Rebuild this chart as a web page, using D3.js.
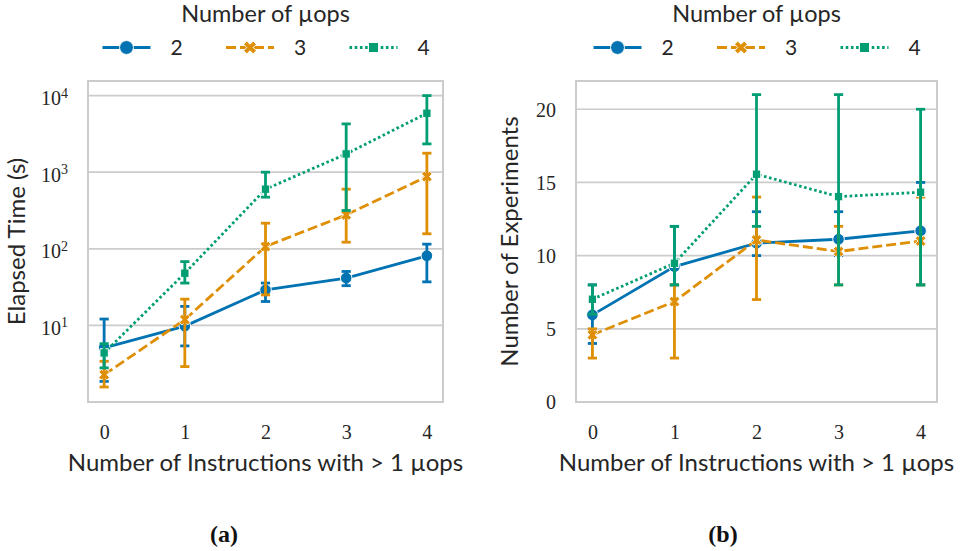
<!DOCTYPE html>
<html>
<head>
<meta charset="utf-8">
<script src="https://cdn.jsdelivr.net/npm/d3@7"></script>
<style>
  html, body { margin: 0; padding: 0; background: #fff; }
  svg { display: block; }
</style>
</head>
<body>
<svg id="chart" width="961" height="551"></svg>
<script>
// Categories on the x axis: number of instructions with more than one µop
const xValues = [0, 1, 2, 3, 4];
const uopLevels = ["2", "3", "4"];
const colors = ["#0173b2", "#de8f05", "#029e73"];

// (a) elapsed time in seconds: mean and error-bar bounds per µop level
const timeMean2 = [5.1, 9.8, 29, 41.5, 81];
const timeLow2  = [1.86, 5.4, 20.5, 33, 37];
const timeHigh2 = [12.1, 17.7, 35.7, 50.6, 115];
const timeMean3 = [2.27, 11.9, 107, 277, 877];
const timeLow3  = [1.57, 2.9, 25, 122, 157];
const timeHigh3 = [3.4, 22, 216, 600, 1770];
const timeMean4 = [4.37, 48, 600, 1730, 5880];
const timeLow4  = [2.79, 35.7, 472, 316, 2340];
const timeHigh4 = [5.77, 68, 1000, 4270, 10000];

// (b) number of experiments: mean and error-bar bounds per µop level
const countMean2 = [5.95, 9.25, 10.85, 11.12, 11.69];
const countLow2  = [4, 8, 10, 10, 8];
const countHigh2 = [8, 12, 13, 13, 15];
const countMean3 = [4.59, 6.86, 11.07, 10.28, 11.0];
const countLow3  = [3, 3, 7, 8, 8];
const countHigh3 = [5, 8, 14, 12, 14];
const countMean4 = [7.02, 9.48, 15.56, 14.03, 14.33];
const countLow4  = [6, 8, 12, 8, 8];
const countHigh4 = [8, 12, 21, 21, 20];

// Axis ticks
const logTickExponents = [1, 2, 3, 4];
const linearTicks = [0, 5, 10, 15, 20];

const textColor = "#262626";
const gridColor = "#cccccc";
const sansFont = "Lato, 'Noto Sans', sans-serif";
const serifFont = "'Liberation Serif', 'DejaVu Serif', serif";

const svg = d3.select("#chart");

const dashes = [null, "10 4", "2.6 2.6"];

// marker glyphs; k scales them (legend handles are drawn a bit larger)
function markerPath(kind, k) {
  if (kind === 0) return d3.symbol().type(d3.symbolCircle).size(Math.PI * Math.pow(5.8 * k, 2))();
  if (kind === 2) return d3.symbol().type(d3.symbolSquare).size(Math.pow(8.4 * k, 2))();
  // filled "X" marker
  const s = 2.7 * k;
  const pts = [[-1,-2],[0,-1],[1,-2],[2,-1],[1,0],[2,1],[1,2],[0,1],[-1,2],[-2,1],[-1,0],[-2,-1]];
  return "M" + pts.map(p => (p[0] * s) + "," + (p[1] * s)).join("L") + "Z";
}

function drawPanel(opts) {
  const g = svg.append("g");
  const x = d3.scaleLinear().domain([-0.2, 4.2]).range([opts.left, opts.right]);
  const y = opts.y;

  // horizontal grid lines
  g.append("g").selectAll("line").data(opts.gridValues).join("line")
    .attr("x1", opts.left).attr("x2", opts.right)
    .attr("y1", d => y(d)).attr("y2", d => y(d))
    .attr("stroke", gridColor).attr("stroke-width", 1.7);

  // frame
  g.append("rect")
    .attr("x", opts.left).attr("y", opts.top)
    .attr("width", opts.right - opts.left).attr("height", opts.bottom - opts.top)
    .attr("fill", "none").attr("stroke", gridColor).attr("stroke-width", 2);

  // x axis tick labels
  const xAxis = d3.axisBottom(x).tickValues(xValues).tickSize(0).tickPadding(0).tickFormat(d3.format("d"));
  const xa = g.append("g").attr("transform", `translate(0,${opts.bottom + 37})`).call(xAxis);
  xa.select(".domain").remove();
  xa.selectAll("text").attr("font-family", serifFont).attr("font-size", 20)
    .attr("fill", textColor).attr("dy", 0);

  // y axis tick labels
  const yAxis = d3.axisLeft(y).tickValues(opts.gridValues).tickSize(0).tickPadding(0).tickFormat("");
  const ya = g.append("g").attr("transform", `translate(${opts.left - 20},0)`).call(yAxis);
  ya.select(".domain").remove();
  ya.selectAll(".tick text").remove();
  ya.selectAll(".tick").each(function(d) {
    const t = d3.select(this).append("text")
      .attr("font-family", serifFont).attr("font-size", 20)
      .attr("fill", textColor).attr("text-anchor", "end");
    if (opts.logLabels) {
      t.attr("y", 9);
      t.append("tspan").text("10");
      t.append("tspan").attr("font-size", 14).attr("dy", -7.5).text(String(Math.round(Math.log10(d))));
    } else {
      t.attr("y", 6.8).text(d);
    }
  });

  // axis titles
  g.append("text")
    .attr("x", (opts.left + opts.right) / 2).attr("y", opts.bottom + 69)
    .attr("text-anchor", "middle").attr("font-family", sansFont).attr("font-size", 24)
    .attr("fill", textColor).text("Number of Instructions with > 1 µops");
  g.append("text")
    .attr("transform", `translate(${opts.yLabelX},${(opts.top + opts.bottom) / 2}) rotate(-90)`)
    .attr("text-anchor", "middle").attr("font-family", sansFont).attr("font-size", 24)
    .attr("fill", textColor).text(opts.yLabel);

  // series: line with markers, then error bars
  opts.series.forEach((s, i) => {
    const line = d3.line().x((d, j) => x(xValues[j])).y(d => y(d));
    g.append("path").datum(s.mean)
      .attr("d", line).attr("fill", "none")
      .attr("stroke", colors[i]).attr("stroke-width", 2.8)
      .attr("stroke-dasharray", dashes[i]);
    g.append("g").selectAll("path").data(s.mean).join("path")
      .attr("transform", (d, j) => `translate(${x(xValues[j])},${y(d)})`)
      .attr("d", markerPath(i, 1))
      .attr("fill", colors[i]).attr("stroke", "#fff").attr("stroke-width", 1);
    const eb = g.append("g").attr("stroke", colors[i]).attr("stroke-width", 2.8);
    xValues.forEach((xv, j) => {
      const cx = x(xv), lo = y(s.low[j]), hi = y(s.high[j]);
      eb.append("line").attr("x1", cx).attr("x2", cx).attr("y1", lo).attr("y2", hi);
      eb.append("line").attr("x1", cx - 4.6).attr("x2", cx + 4.6).attr("y1", lo).attr("y2", lo);
      eb.append("line").attr("x1", cx - 4.6).attr("x2", cx + 4.6).attr("y1", hi).attr("y2", hi);
    });
  });

  // legend above the panel
  const cx = (opts.left + opts.right) / 2;
  g.append("text").attr("x", cx).attr("y", 21.5)
    .attr("text-anchor", "middle").attr("font-family", sansFont).attr("font-size", 23.5)
    .attr("fill", textColor).text("Number of µops");
  uopLevels.forEach((lvl, i) => {
    const hx = cx - 163 + i * 123.5;
    const ly = 47.5;
    g.append("line").attr("x1", hx).attr("x2", hx + 48).attr("y1", ly).attr("y2", ly)
      .attr("stroke", colors[i]).attr("stroke-width", 2.8)
      .attr("stroke-dasharray", dashes[i]);
    g.append("path").attr("transform", `translate(${hx + 24},${ly})`)
      .attr("d", markerPath(i, 1.2)).attr("fill", colors[i]).attr("stroke", "#fff").attr("stroke-width", 1);
    g.append("text").attr("x", hx + 68).attr("y", ly + 7.5)
      .attr("font-family", sansFont).attr("font-size", 21)
      .attr("fill", textColor).text(lvl);
  });

  // sub-caption
  svg.append("text").attr("x", opts.captionX).attr("y", 542)
    .attr("text-anchor", "middle").attr("font-family", serifFont).attr("font-weight", "bold")
    .attr("font-size", 24).attr("fill", "#111").text(opts.caption);
}

const leftY = d3.scaleLog().domain([1, 15500]).range([402, 81]);
drawPanel({
  left: 88, right: 443, top: 81, bottom: 402,
  y: leftY,
  gridValues: logTickExponents.map(e => Math.pow(10, e)),
  logLabels: true,
  yLabel: "Elapsed Time (s)", yLabelX: 25,
  caption: "(a)", captionX: 224,
  series: [
    { mean: timeMean2, low: timeLow2, high: timeHigh2 },
    { mean: timeMean3, low: timeLow3, high: timeHigh3 },
    { mean: timeMean4, low: timeLow4, high: timeHigh4 }
  ]
});

const rightY = d3.scaleLinear().domain([0, 21.93]).range([402, 81]);
drawPanel({
  left: 576, right: 937, top: 81, bottom: 402,
  y: rightY,
  gridValues: linearTicks,
  logLabels: false,
  yLabel: "Number of Experiments", yLabelX: 518,
  caption: "(b)", captionX: 723,
  series: [
    { mean: countMean2, low: countLow2, high: countHigh2 },
    { mean: countMean3, low: countLow3, high: countHigh3 },
    { mean: countMean4, low: countLow4, high: countHigh4 }
  ]
});
</script>
</body>
</html>
